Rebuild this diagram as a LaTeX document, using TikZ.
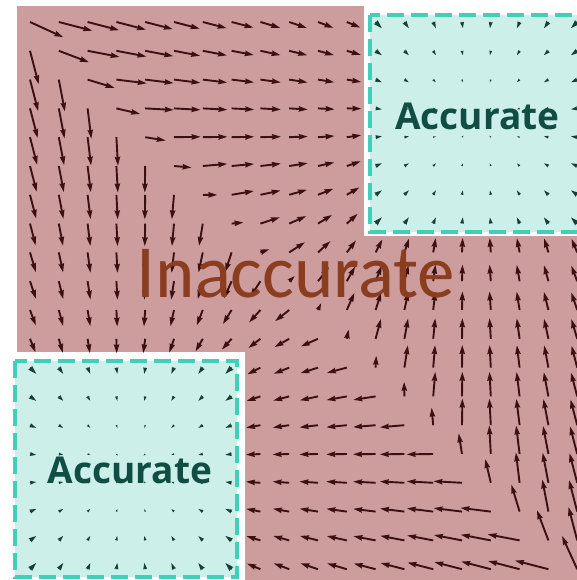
\documentclass[tikz,border=0pt]{standalone}
\usepackage{fontspec}
\newfontfamily\carlito{Carlito}
\newfontfamily\osans{Open Sans}
\definecolor{pinkbg}{RGB}{205,157,157}
\definecolor{tealbg}{RGB}{204,239,233}
\definecolor{tealdash}{RGB}{64,208,186}
\definecolor{arrpink}{RGB}{58,16,16}
\definecolor{arrteal}{RGB}{24,62,56}
\definecolor{inacc}{RGB}{139,61,32}
\definecolor{acc}{RGB}{16,78,68}
\begin{document}
\begin{tikzpicture}[x=1pt,y=1pt,
  dashbox/.style={draw=tealdash,line width=4.5pt,dash pattern=on 17pt off 7pt},
  acctext/.style={inner sep=0pt,anchor=base,text=acc,font=\osans\bfseries\fontsize{37}{40}\selectfont},
  bigtext/.style={inner sep=0pt,anchor=base,font=\carlito\fontsize{75}{80}\selectfont},
  qarrow/.style={fill=#1}]
\useasboundingbox (0,0) rectangle (577,-580);
\fill[white] (0,0) rectangle (577,-580);
\fill[pinkbg] (17,-6) rectangle (577,-580);
\fill[white] (364,0) rectangle (577,-236);
\fill[white] (0,-352) rectangle (245,-580);
\fill[tealbg] (370,-15) rectangle (590,-232);
\fill[tealbg] (15,-361) rectangle (237,-577);
% vector field
\foreach \i in {0,...,19}{
 \foreach \j in {0,...,19}{
  \pgfmathsetmacro\X{(\i-9.5)/9.5}
  \pgfmathsetmacro\Y{(9.5-\j)/9.5}
  \pgfmathtruncatemacro\inTR{(\i>11)*(\j<8)}
  \pgfmathtruncatemacro\inBL{(\i<8)*(\j>11)}
  \pgfmathtruncatemacro\inbox{\inTR+\inBL}
  \ifnum\inbox>0
    \ifnum\inTR=1
      \pgfmathsetmacro\Xp{(\i-15.5)/3.5}\pgfmathsetmacro\Yp{(3.5-\j)/3.5}
    \else
      \pgfmathsetmacro\Xp{(\i-3.5)/3.5}\pgfmathsetmacro\Yp{(15.5-\j)/3.5}
    \fi
    \pgfmathsetmacro\T{atan2(-1*(\Yp),-1*(\Xp))}
    \pgfmathsetmacro\M{max(2.2,6.2*sqrt((\Xp)*(\Xp)+(\Yp)*(\Yp)))}
    \def\col{arrteal}
  \else
    \pgfmathsetmacro\ax{max(0,0.23-(\X))}
    \pgfmathsetmacro\ay{max(0,0.23-(\Y))}
    \pgfmathsetmacro\bx{max(0,(\X)+0.23)}
    \pgfmathsetmacro\by{max(0,(\Y)+0.23)}
    \pgfmathsetmacro\dTR{sqrt((\ax)*(\ax)+(\ay)*(\ay))}
    \pgfmathsetmacro\dBL{sqrt((\bx)*(\bx)+(\by)*(\by))}
    \pgfmathsetmacro\M{13+19*min(min(\dTR,\dBL),1.3)}
    \ifnum\i<\j
      \pgfmathsetmacro\XX{-1*(\X)}\pgfmathsetmacro\YY{-1*(\Y)}
      \def\cc{-0.12}\def\flip{180}
    \else
      \pgfmathsetmacro\XX{\X}\pgfmathsetmacro\YY{\Y}
      \def\cc{0.12}\def\flip{0}
    \fi
    \pgfmathsetmacro\kH{0.65+max(0,(\XX)+0.25)}
    \pgfmathsetmacro\kV{0.65+max(0,(\YY)+0.25)}
    \pgfmathsetmacro\tH{-1*atan((\kH)*((\YY)-0.6))}
    \pgfmathsetmacro\tV{90+atan((\kV)*((\XX)-0.6))}
    \pgfmathsetmacro\s{max(-8,min(8,((\XX)-(\YY)+(\cc))/0.15))}
    \pgfmathsetmacro\w{1/(1+exp(-1*(\s)))}
    \pgfmathsetmacro\T{(\tH)+(\w)*((\tV)-(\tH))+\flip}
    \ifnum\i=\j
      \pgfmathsetmacro\T{(\T)-10+20*(\w)}
      \pgfmathsetmacro\M{(\M)*min(1,0.35+0.65*abs(\X))}
    \fi
    \def\col{arrpink}
  \fi
  \pgfmathsetmacro\sc{min(1,(\M)/9)}
  \pgfmathsetmacro\ma{(\M)-8.1*(\sc)}
  \pgfmathsetmacro\mh{(\M)-9*(\sc)}
  \pgfmathsetmacro\hw{2.9*(\sc)}
  \pgfmathsetmacro\sw{0.95*(\sc)}
  \pgfmathsetmacro\px{30+28.8*\i}
  \pgfmathsetmacro\py{-22-28.8*\j}
  \fill[qarrow=\col,shift={(\px,\py)},rotate=\T]
    (0,\sw) -- (\ma,\sw) -- (\mh,\hw) -- (\M,0) -- (\mh,-\hw) -- (\ma,-\sw) -- (0,-\sw) -- cycle;
 }}
\draw[dashbox] (370,-15) rectangle (590,-232);
\draw[dashbox] (15,-361) rectangle (237,-577);
\node[bigtext,text=inacc] (inacc) at (296,-297) {Inaccurate};
\node[acctext] (acctr) at (477.5,-130) {Accurate};
\node[acctext] (accbl) at (130,-483) {Accurate};
\end{tikzpicture}
\end{document}
